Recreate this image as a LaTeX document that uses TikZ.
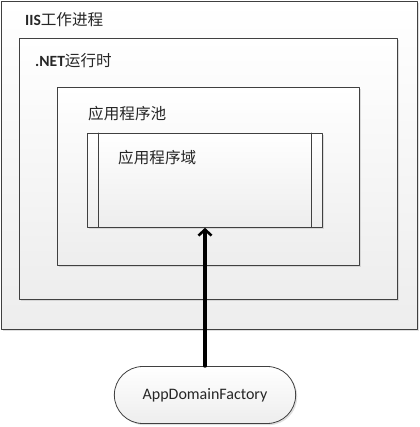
\documentclass[tikz,border=0pt]{standalone}
\usepackage{fontspec}
\setmainfont{Carlito}
\newfontfamily\cjk{Noto Sans CJK SC}
\usetikzlibrary{arrows.meta,shapes.misc,shadows}

\tikzset{
  box/.style={draw=black!75, line width=0.8pt, anchor=north west, inner sep=0pt,
    top color=white, bottom color=black!7,
    drop shadow={shadow xshift=1.6pt, shadow yshift=-1.6pt, fill=black!25, opacity=0.5}},
  boxlabel/.style={anchor=west, inner sep=0pt, text=black!85, font=\fontsize{15.6}{18}\selectfont},
  push/.style={line width=3.2pt, -{Straight Barb[length=6pt,width=13pt,line width=2.6pt]}}
}

\begin{document}
\begin{tikzpicture}[x=1pt,y=-1pt,line cap=round,line join=round]
  \useasboundingbox (0,0) rectangle (419,427);
  % IIS
  \node[box, minimum width=416pt, minimum height=328pt] (iis) at (0.6,0.6) {};
  \node[boxlabel] (iislbl) at (25,20) {\bfseries IIS\mdseries\cjk 工作进程};
  % .NET
  \node[box, minimum width=378pt, minimum height=261pt] (clr) at (19,38) {};
  \node[boxlabel] (clrlbl) at (35,61) {\bfseries .NET\mdseries\cjk 运行时};
  % 应用程序池
  \node[box, minimum width=302pt, minimum height=178pt] (pool) at (57,87) {};
  \node[boxlabel] (poollbl) at (88,114) {\cjk 应用程序池};
  % 应用程序域
  \node[box, minimum width=235pt, minimum height=94pt] (domain) at (87,133) {};
  \draw[draw=black!75, line width=0.8pt] (domain.north west) ++(11,0) -- ++(0,94);
  \draw[draw=black!75, line width=0.8pt] (domain.north east) ++(-11,0) -- ++(0,94);
  \node[boxlabel] (domainlbl) at (118,158) {\cjk 应用程序域};
  % AppDomainFactory
  \node[rounded rectangle, draw=black!75, line width=0.8pt, top color=white, bottom color=black!7,
    drop shadow={shadow xshift=1.6pt, shadow yshift=-1.6pt, fill=black!25, opacity=0.5},
    minimum width=188pt, minimum height=57pt, text=black!85,
    font=\fontsize{16}{18}\selectfont] (factory) at (205,395) {AppDomainFactory};
  \draw[push] (factory.north) -- (factory.north |- domain.south);
\end{tikzpicture}
\end{document}
